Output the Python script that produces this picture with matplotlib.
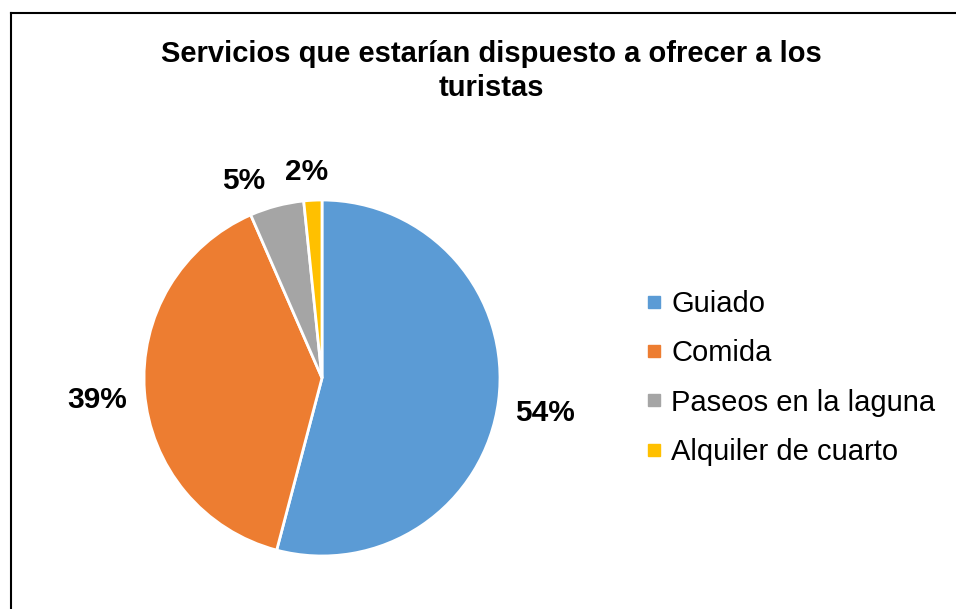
import numpy as np
import matplotlib.pyplot as plt
from matplotlib.lines import Line2D

plt.rcParams['font.family'] = ['Liberation Sans', 'DejaVu Sans']

# data
categorias = ['Guiado', 'Comida', 'Paseos en la laguna', 'Alquiler de cuarto']
respuestas = [33, 24, 3, 1]
colores = ['#5B9BD5', '#ED7D31', '#A5A5A5', '#FFC000']
titulo = 'Servicios que estarían dispuesto a ofrecer a los\nturistas'

W, H = 956, 609
fig = plt.figure(figsize=(W / 100, H / 100), dpi=100)

# frame of the chart area (only top and left edges visible in the crop)
fig.add_artist(Line2D([10.5 / W, 10.5 / W], [0, 1 - 13 / H], color='black', lw=1.5))
fig.add_artist(Line2D([10.5 / W, 1], [1 - 13 / H, 1 - 13 / H], color='black', lw=1.5))

# pie axes: centre (322, 378), radius 178 px
cx, cy, r = 322, 378, 178
ax = fig.add_axes([(cx - r) / W, 1 - (cy + r) / H, 2 * r / W, 2 * r / H])
wedges, _ = ax.pie(respuestas, colors=colores, startangle=90, counterclock=False,
                   wedgeprops=dict(edgecolor='white', linewidth=2))
ax.set_xlim(-1, 1)
ax.set_ylim(-1, 1)
ax.set_aspect('equal')

# data label placement (distance from centre, angular nudge in degrees)
total = sum(respuestas)
dist = [1.27, 1.27, 1.19, 1.16]
nudge = [-1.5, 1.2, 7, 1.2]
for w, v, d, n in zip(wedges, respuestas, dist, nudge):
    ang = np.deg2rad((w.theta1 + w.theta2) / 2 + n)
    ax.text(d * np.cos(ang), d * np.sin(ang), '{:.0f}%'.format(100 * v / total),
            ha='center', va='center', fontsize=21.5, fontweight='bold')

fig.text(491 / W, 1 - 71 / H, titulo, ha='center', va='center', fontsize=21,
         fontweight='bold', linespacing=1.25)

handles = [Line2D([], [], marker='s', linestyle='none', markersize=8,
                  markerfacecolor=c, markeredgecolor=c) for c in colores]
fig.legend(handles, categorias, loc='center left', bbox_to_anchor=(645 / W, 1 - 378 / H),
           frameon=False, fontsize=21, handlelength=0.6, handletextpad=0.3,
           labelspacing=0.73, borderpad=0, borderaxespad=0)

fig.savefig('out.png', dpi=100)
